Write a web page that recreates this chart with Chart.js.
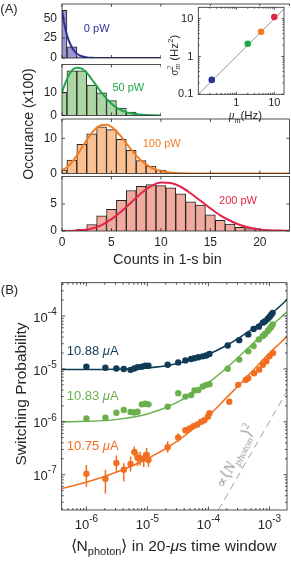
<!DOCTYPE html>
<html><head><meta charset="utf-8">
<script src="https://cdn.jsdelivr.net/npm/chart.js@4.4.1/dist/chart.umd.min.js"></script>
<style>
html,body{margin:0;padding:0;background:#fff;}
body{width:291px;height:565px;position:relative;overflow:hidden;font-family:"Liberation Sans",Arial,sans-serif;color:#262626;}
canvas{position:absolute;}
.c{position:absolute;white-space:nowrap;line-height:1;transform:translate(-50%,-50%);}
.l{position:absolute;white-space:nowrap;line-height:1;transform:translate(0,-50%);}
.m{font-family:"Liberation Serif","DejaVu Serif",serif;font-style:italic;}
sub,sup{line-height:0;}
#cover{position:absolute;left:160.7px;top:5.5px;width:131px;height:112px;background:#fff;}
</style></head><body>
<canvas id="h1" width="291" height="70" style="left:0;top:-4px"></canvas>
<canvas id="h2" width="291" height="67" style="left:0;top:56px"></canvas>
<canvas id="h3" width="291" height="71" style="left:0;top:111px"></canvas>
<canvas id="h4" width="291" height="90" style="left:0;top:168px"></canvas>
<div id="cover"></div>
<canvas id="ins" width="130" height="125" style="left:161px;top:0"></canvas>
<canvas id="pb" width="291" height="303" style="left:0;top:262px"></canvas>

<div class="c" style="left:9px;top:8px;font-size:13px">(A)</div>
<div class="c" style="left:9.5px;top:288.5px;font-size:13px">(B)</div>
<div class="c" style="left:27.5px;top:124px;font-size:14px;transform:translate(-50%,-50%) rotate(-90deg)">Occurance (x100)</div>
<div class="c" style="left:167.5px;top:259px;font-size:14.5px">Counts in 1-s bin</div>
<div class="c" style="left:96.7px;top:28px;font-size:11px;color:#2e3192">0 pW</div>
<div class="c" style="left:128.3px;top:86.7px;font-size:11px;color:#1fa64a">50 pW</div>
<div class="c" style="left:161.7px;top:143px;font-size:11px;color:#f47b20">100 pW</div>
<div class="c" style="left:238px;top:200px;font-size:11px;color:#e3254a">200 pW</div>
<div class="c" style="left:245.5px;top:116px;font-size:11.5px"><span class="m">μ<sub style="font-size:8px">m</sub></span>(Hz)</div>
<div class="c" style="left:175px;top:54.5px;font-size:11.5px;transform:translate(-50%,-50%) rotate(-90deg)"><span class="m">σ</span><span class="m" style="display:inline-block;vertical-align:middle;line-height:0.85;font-size:8px">2<br>m</span> (Hz<sup style="font-size:8px">2</sup>)</div>

<div class="c" style="left:21px;top:394px;font-size:15.5px;transform:translate(-50%,-50%) rotate(-90deg)">Switching Probability</div>
<div class="c" style="left:173.5px;top:546px;font-size:15.5px">⟨N<sub style="font-size:11px">photon</sub>⟩ in 20-<i>μ</i>s time window</div>
<div class="l" style="left:66.7px;top:350px;font-size:13px;color:#0f3b55">10.88 <i>μ</i>A</div>
<div class="l" style="left:66.7px;top:395px;font-size:13px;color:#6ab04c">10.83 <i>μ</i>A</div>
<div class="l" style="left:66.7px;top:445px;font-size:13px;color:#f26f21">10.75 <i>μ</i>A</div>
<div class="c m" style="left:235px;top:456px;font-size:15.5px;color:#9a9a9a;transform:translate(-50%,-50%) rotate(-63deg)">∝<span style="font-style:normal">⟨</span>N<sub style="font-size:11px">photon</sub><span style="font-style:normal">⟩</span><sup style="font-size:10.5px;font-style:normal">2</sup></div>

<script>
// ---------- Panel A: histograms ----------
const counts = [0,1,2,3,4,5,6,7,8,9,10,11,12,13,14,15,16,17,18,19,20,21,22,23];
const hist0pW   = [60,14.2,1.5,0.2,0,0,0,0,0,0,0,0,0,0,0,0,0,0,0,0,0,0,0,0];
const hist50pW  = [10.2,19.6,19.6,13.4,10,6.5,3.3,1.5,0.6,0.2,0.05,0,0,0,0,0,0,0,0,0,0,0,0,0];
const hist100pW = [1.0,3.8,8.3,11.3,13.3,12.5,9.7,6.6,3.7,2.1,1.0,0.4,0.15,0.05,0,0,0,0,0,0,0,0,0,0];
const hist200pW = [0,0.05,0.3,1.2,2.8,4.0,5.7,7.5,8.3,8.6,8.4,8.0,6.9,5.4,4.8,3.0,2.0,1.3,0.7,0.45,0.2,0.1,0.05,0];

const fit0pWX = [0,0.25,0.5,0.75,1,1.25,1.5,2,2.5,3,4,6,23];
const fit0pWY = [60,42,29,20,13.5,8.5,5.3,2.2,0.8,0.3,0.05,0,0];
const fit50pWX = [0,0.5,1,1.5,2,2.5,3,3.5,4,4.5,5,5.5,6,6.5,7,8,9,10,12,23];
const fit50pWY = [10.3,16,19.8,21,20.6,18.8,16,13,10,7.4,5.2,3.5,2.3,1.5,0.95,0.35,0.12,0.04,0,0];
const fit100pWX = [0,0.5,1,1.5,2,2.5,3,3.5,4,4.5,5,5.5,6,6.5,7,7.5,8,8.5,9,9.5,10,11,12,14,23];
const fit100pWY = [0.9,1.8,3.2,5.1,7.3,9.5,11.5,13,13.8,13.9,13.3,12,10.4,8.6,6.8,5.1,3.7,2.6,1.7,1.1,0.7,0.25,0.08,0.01,0];
const fit200pWX = [0,1,2,3,4,5,6,7,8,9,10,11,12,13,14,15,16,17,18,19,20,21,22,23];
const fit200pWY = [0,0.02,0.12,0.45,1.1,2.2,3.6,5.3,7.0,8.3,9.0,8.9,8.2,7.0,5.6,4.2,2.9,1.9,1.1,0.6,0.3,0.15,0.07,0.03];

const histXTicks = [0,5,10,15,20];
const hist0Ticks = [0,25,50];
const hist50Ticks = [0,10];
const hist100Ticks = [0,10];
const hist200Ticks = [0,5];

// ---------- Inset ----------
const insetMu = [0.226, 2.0, 4.5, 10.0];
const insetSigma2 = [0.24, 2.17, 4.5, 11.0];
const insetLineX = [0.1, 18];
const insetLineY = [0.1, 18];
const insetXTicks = [1, 10];
const insetYTicks = [0.1, 1, 10];

// ---------- Panel B ----------
const nPhotonA = [1.0e-6,2.05e-6,3.1e-6,4.1e-6,5.3e-6,6.1e-6,6.9e-6,8.1e-6,9.2e-6,1.04e-5,2.15e-5,3.2e-5,4.2e-5,5.2e-5,5.9e-5,6.85e-5,8.1e-5,9.2e-5,1.04e-4,2.07e-4,3.2e-4,4.5e-4,5.5e-4,6.7e-4,7.8e-4,8.5e-4,9.4e-4,1.01e-3,1.07e-3,1.13e-3];
const p1088 = [1.1e-5,1.05e-5,1.02e-5,1.0e-5,0.96e-5,1.02e-5,1.08e-5,1.1e-5,1.15e-5,1.15e-5,1.2e-5,1.33e-5,1.45e-5,1.54e-5,1.6e-5,1.66e-5,1.73e-5,1.8e-5,1.92e-5,2.77e-5,3.5e-5,4.5e-5,5.7e-5,6.3e-5,7.5e-5,8.0e-5,8.9e-5,9.7e-5,1.06e-4,1.15e-4];
const p1083 = [1.16e-6,1.19e-6,1.48e-6,1.67e-6,1.53e-6,1.5e-6,1.55e-6,2.14e-6,2.2e-6,2.14e-6,1.93e-6,3.47e-6,3.0e-6,3.2e-6,3.9e-6,4.0e-6,4.65e-6,5.0e-6,5.15e-6,1.01e-5,1.5e-5,2.15e-5,2.7e-5,3.6e-5,4.2e-5,4.6e-5,5.2e-5,5.8e-5,6.3e-5,6.9e-5];
const nPhotonC = [1.0e-6,2.05e-6,3.1e-6,4.1e-6,5.3e-6,6.1e-6,6.9e-6,7.6e-6,8.7e-6,9.7e-6,1.04e-5,2.15e-5,3.2e-5,4.2e-5,4.9e-5,5.7e-5,6.6e-5,7.6e-5,8.6e-5,9.8e-5,1.04e-4,2.2e-4,3.07e-4,4.1e-4,4.5e-4,5.6e-4,6.8e-4,7.8e-4,8.9e-4,1.0e-3,1.14e-3];
const p1075 = [1.04e-7,8.4e-8,1.66e-7,1.24e-7,1.6e-7,2.7e-7,2.1e-7,2.05e-7,2.0e-7,2.4e-7,1.9e-7,3.3e-7,5.05e-7,6.95e-7,7.5e-7,8.3e-7,8.9e-7,1.0e-6,1.07e-6,1.25e-6,1.45e-6,2.4e-6,5.0e-6,6.2e-6,6.7e-6,8.3e-6,9.7e-6,1.2e-5,1.4e-5,1.73e-5,2.0e-5];
const p1075Lo = [5.9e-8,4.4e-8,1.14e-7,7.4e-8,1.15e-7,2.2e-7,1.45e-7,1.5e-7,1.4e-7,1.9e-7,1.4e-7,2.6e-7,4.2e-7,6.0e-7,null,null,null,null,null,null,null,null,null,null,null,null,null,null,null,null,null];
const p1075Hi = [1.52e-7,1.23e-7,2.3e-7,1.65e-7,2.2e-7,3.4e-7,2.7e-7,2.7e-7,2.6e-7,3.2e-7,2.6e-7,4.3e-7,6.1e-7,8.0e-7,null,null,null,null,null,null,null,null,null,null,null,null,null,null,null,null,null];

const fitBX = [3.94e-7,1e-6,3e-6,1e-5,3e-5,1e-4,2e-4,4e-4,7e-4,1e-3,1.5e-3,1.94e-3];
const fit1088 = [9.8e-6,9.8e-6,9.9e-6,1.04e-5,1.25e-5,1.9e-5,2.8e-5,4.6e-5,7.3e-5,1.03e-4,1.55e-4,2.05e-4];
const fit1083 = [1.0e-6,1.02e-6,1.1e-6,1.4e-6,2.3e-6,5.5e-6,1.05e-5,2.2e-5,4.0e-5,6.0e-5,9.2e-5,1.2e-4];
const fit1075 = [5.5e-8,7.2e-8,1.1e-7,2.0e-7,4.2e-7,1.3e-6,2.9e-6,6.5e-6,1.3e-5,2.0e-5,3.1e-5,4.1e-5];
const dashX = [1.46e-4, 1.94e-3];
const dashY = [2.15e-8, 3.8e-6];
const bXTicks = [1e-6,1e-5,1e-4,1e-3];
const bXExp = ['-6','-5','-4','-3'];
const bYTicks = [1e-7,1e-6,1e-5,1e-4];
const bYExp = ['-7','-6','-5','-4'];

// ---------- helpers ----------
const pts = (xs, ys) => xs.map((x,i)=>({x, y: ys[i]}));
function logMinors(min, max){
  const out=[]; for(let e=Math.floor(Math.log10(min)); e<=Math.ceil(Math.log10(max)); e++){
    for(let k=2;k<=9;k++){const v=k*Math.pow(10,e); if(v>min && v<max) out.push(v);} }
  return out;
}
function drawLab(c,x,y,txt,sup,align,cfg){
  c.font=cfg.font; const w1=c.measureText(txt).width;
  let w2=0; if(sup){c.font=cfg.supFont; w2=c.measureText(sup).width;}
  const W=w1+w2; const x0 = align==='center'? x-W/2 : x-W;
  c.textBaseline='middle'; c.textAlign='left';
  c.font=cfg.font; c.fillText(txt,x0,y+(sup?(cfg.baseShift||0):0));
  if(sup){c.font=cfg.supFont; c.fillText(sup,x0+w1,y+(cfg.baseShift||0)-cfg.supRaise);}
}
function deco(cfg){
  return {id:'deco', afterDatasetsDraw(chart){
    const c=chart.ctx, a=chart.chartArea, xs=chart.scales.x, ys=chart.scales.y;
    c.save();
    c.strokeStyle='#262626'; c.lineWidth=cfg.lw||0.8;
    const L=cfg.len||3, l=cfg.minLen||1.8;
    c.beginPath();
    (cfg.xMajor||[]).forEach(v=>{const p=xs.getPixelForValue(v); c.moveTo(p,a.bottom); c.lineTo(p,a.bottom-L); c.moveTo(p,a.top); c.lineTo(p,a.top+L);});
    (cfg.xMinor||[]).forEach(v=>{const p=xs.getPixelForValue(v); c.moveTo(p,a.bottom); c.lineTo(p,a.bottom-l); c.moveTo(p,a.top); c.lineTo(p,a.top+l);});
    (cfg.yMajor||[]).forEach(v=>{const p=ys.getPixelForValue(v); c.moveTo(a.left,p); c.lineTo(a.left+L,p); c.moveTo(a.right,p); c.lineTo(a.right-L,p);});
    (cfg.yMinor||[]).forEach(v=>{const p=ys.getPixelForValue(v); c.moveTo(a.left,p); c.lineTo(a.left+l,p); c.moveTo(a.right,p); c.lineTo(a.right-l,p);});
    c.stroke();
    c.strokeRect(a.left,a.top,a.right-a.left,a.bottom-a.top);
    c.fillStyle='#262626';
    (cfg.xLab||[]).forEach(([v,t,s])=>drawLab(c, xs.getPixelForValue(v), a.bottom+cfg.xOff, t, s, 'center', cfg));
    (cfg.yLab||[]).forEach(([v,t,s])=>drawLab(c, a.left-cfg.yOff, ys.getPixelForValue(v), t, s, 'right', cfg));
    c.restore();
  }};
}
const baseOpts = (pad, xs, ys) => ({
  responsive:false, animation:false, devicePixelRatio:1, events:[],
  layout:{padding:pad},
  plugins:{legend:{display:false}, tooltip:{enabled:false}},
  scales:{x:Object.assign({display:false, offset:false},xs), y:Object.assign({display:false, offset:false},ys)}
});

function histChart(id, vals, fx, fy, fill, line, yMax, yTicks, pad, showX){
  const cfg = {font:'12px "Liberation Sans", Arial, sans-serif', xOff:12, yOff:5, len:3,
    xMajor:histXTicks, yMajor:yTicks,
    yLab: yTicks.map(v=>[v,String(v)]),
    xLab: showX ? histXTicks.map(v=>[v,String(v)]) : []};
  new Chart(document.getElementById(id), {
    type:'bar',
    data:{datasets:[
      {type:'line', data:pts(fx,fy), borderColor:line, borderWidth:2, pointRadius:0, cubicInterpolationMode:'monotone', clip:0},
      {type:'bar', data:pts(counts,vals), backgroundColor:fill, borderColor:'#222', borderWidth:1, barPercentage:1, categoryPercentage:1, clip:0}
    ]},
    options: baseOpts(pad, {type:'linear', min:0, max:23}, {type:'linear', min:0, max:yMax}),
    plugins:[deco(cfg)]
  });
}
histChart('h1', hist0pW, fit0pWX, fit0pWY, '#9a97d2', '#2e3192', 68, hist0Ticks, {left:62,right:1.5,top:8,bottom:8}, false);
histChart('h2', hist50pW, fit50pWX, fit50pWY, '#acd7a5', '#1fa64a', 22.4, hist50Ticks, {left:62,right:1.5,top:8.5,bottom:7.5}, false);
histChart('h3', hist100pW, fit100pWX, fit100pWY, '#fcc193', '#f47b20', 15.5, hist100Ticks, {left:62,right:1.5,top:8,bottom:8.5}, false);
histChart('h4', hist200pW, fit200pWX, fit200pWY, '#f0aa9e', '#e3254a', 10.1, hist200Ticks, {left:62,right:1.5,top:8.5,bottom:27}, true);

// inset
new Chart(document.getElementById('ins'), {
  type:'scatter',
  data:{datasets:[
    {data:pts(insetMu,insetSigma2), backgroundColor:['#2e3192','#1fa64a','#f47b20','#e3254a'], pointRadius:3.3, borderWidth:0},
    {data:pts(insetLineX,insetLineY), showLine:true, borderColor:'#7a7a7a', borderWidth:0.8, pointRadius:0}
  ]},
  options: baseOpts({left:37.3,right:7,top:7.3,bottom:30.7}, {type:'logarithmic',min:0.1,max:18}, {type:'logarithmic',min:0.1,max:20}),
  plugins:[deco({font:'11px "Liberation Sans", Arial, sans-serif', xOff:9, yOff:5, len:2.5, minLen:1.4,
    xMajor:insetXTicks, yMajor:insetYTicks, xMinor:logMinors(0.1,18), yMinor:logMinors(0.1,20),
    xLab:insetXTicks.map(v=>[v,String(v)]), yLab:insetYTicks.map(v=>[v,String(v)])})]
});

// panel B
const navy='#0f3b55', grn='#6ab04c', org='#f26f21';
const errPlugin = {id:'err', beforeDatasetsDraw(chart){
  const c=chart.ctx, a=chart.chartArea, xs=chart.scales.x, ys=chart.scales.y;
  c.save(); c.beginPath(); c.rect(a.left,a.top,a.right-a.left,a.bottom-a.top); c.clip();
  c.strokeStyle=org; c.lineWidth=1.5; c.beginPath();
  nPhotonC.forEach((x,i)=>{ if(p1075Lo[i]==null) return; const px=xs.getPixelForValue(x);
    c.moveTo(px, ys.getPixelForValue(p1075Lo[i])); c.lineTo(px, ys.getPixelForValue(p1075Hi[i])); });
  c.stroke(); c.restore();
}};
new Chart(document.getElementById('pb'), {
  type:'scatter',
  data:{datasets:[
    {data:pts(nPhotonA,p1088), backgroundColor:navy, pointRadius:3.2, borderWidth:0},
    {data:pts(nPhotonA,p1083), backgroundColor:grn, pointRadius:3.2, borderWidth:0},
    {data:pts(nPhotonC,p1075), backgroundColor:org, pointRadius:3.2, borderWidth:0},
    {data:pts(fitBX,fit1088), showLine:true, borderColor:navy, borderWidth:1.5, pointRadius:0, cubicInterpolationMode:'monotone'},
    {data:pts(fitBX,fit1083), showLine:true, borderColor:grn, borderWidth:1.5, pointRadius:0, cubicInterpolationMode:'monotone'},
    {data:pts(fitBX,fit1075), showLine:true, borderColor:org, borderWidth:1.5, pointRadius:0, cubicInterpolationMode:'monotone'},
    {data:pts(dashX,dashY), showLine:true, borderColor:'#a0a0a0', borderWidth:1, borderDash:[7,5], pointRadius:0}
  ]},
  options: baseOpts({left:61.7,right:1.5,top:20.7,bottom:55}, {type:'logarithmic',min:3.94e-7,max:1.94e-3}, {type:'logarithmic',min:2.15e-8,max:4.27e-4}),
  plugins:[errPlugin, deco({font:'13px "Liberation Sans", Arial, sans-serif', supFont:'10px "Liberation Sans", Arial, sans-serif',
    supRaise:6, baseShift:2, xOff:13, yOff:5, len:3.5, minLen:2,
    xMajor:bXTicks, yMajor:bYTicks, xMinor:logMinors(3.94e-7,1.94e-3), yMinor:logMinors(2.15e-8,4.27e-4),
    xLab:bXTicks.map((v,i)=>[v,'10',bXExp[i]]), yLab:bYTicks.map((v,i)=>[v,'10',bYExp[i]])})]
});
</script>
</body></html>
